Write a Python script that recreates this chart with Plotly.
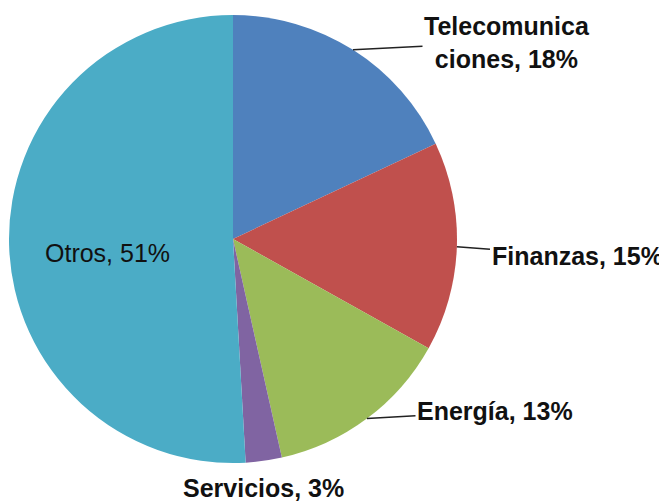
import math
import plotly.graph_objects as go

categories = ["Telecomunicaciones", "Finanzas", "Energía", "Servicios", "Otros"]
values = [18.0, 15.1, 13.4, 2.6, 50.9]
colors = ["#4F81BD", "#C0504D", "#9BBB59", "#8064A2", "#4BACC6"]

OFF = 8  # page body margin in the browser
W, H = 667 - OFF, 504 - OFF
CX, CY, R = 233 - OFF, 239 - OFF, 224  # pie centre / radius in figure pixels

fig = go.Figure(go.Pie(
    labels=categories,
    values=values,
    sort=False,
    direction="clockwise",
    rotation=0,
    marker=dict(colors=colors, line=dict(width=0)),
    textinfo="none",
    hoverinfo="label+percent",
    domain=dict(x=[(CX - R) / W, (CX + R) / W], y=[1 - (CY + R) / H, 1 - (CY - R) / H]),
    showlegend=False,
))

total = sum(values)
display = {"Telecomunicaciones": "Telecomunica<br>ciones"}
# label placement (text centre in page pixels) and whether a leader line is drawn
label_pos = {
    "Telecomunicaciones": (507, 42, True),
    "Finanzas": (577, 256, True),
    "Energía": (495, 411, True),
    "Servicios": (263, 488, False),
    "Otros": (107, 253, False),
}

cum = 0.0
for cat, v in zip(categories, values):
    mid = (cum + v / 2) / total * 2 * math.pi
    cum += v
    pct = round(v / total * 100)
    name = display.get(cat, cat)
    txt = f"{name}, {pct}%"
    tx, ty, leader = label_pos[cat]
    tx -= OFF
    ty -= OFF
    inside = cat == "Otros"
    font = dict(family="Liberation Sans, Arial, sans-serif",
                size=25,
                color="#111111")
    if not inside:
        txt = f"<b>{txt}</b>"
    if leader:
        ex = CX + R * math.sin(mid)
        ey = CY - R * math.cos(mid)
        fig.add_annotation(
            x=ex / W, y=1 - ey / H, xref="paper", yref="paper",
            ax=tx - ex, ay=ty - ey,
            text=txt, showarrow=True, arrowhead=0, arrowwidth=1.5,
            arrowcolor="#222222", font=font, align="center",
        )
    else:
        fig.add_annotation(
            x=tx / W, y=1 - ty / H, xref="paper", yref="paper",
            xanchor="center", yanchor="middle",
            text=txt, showarrow=False, font=font, align="center",
        )

fig.update_layout(
    width=W, height=H,
    margin=dict(l=0, r=0, t=0, b=0),
    paper_bgcolor="white",
    plot_bgcolor="white",
)

fig.write_html("out.html")
